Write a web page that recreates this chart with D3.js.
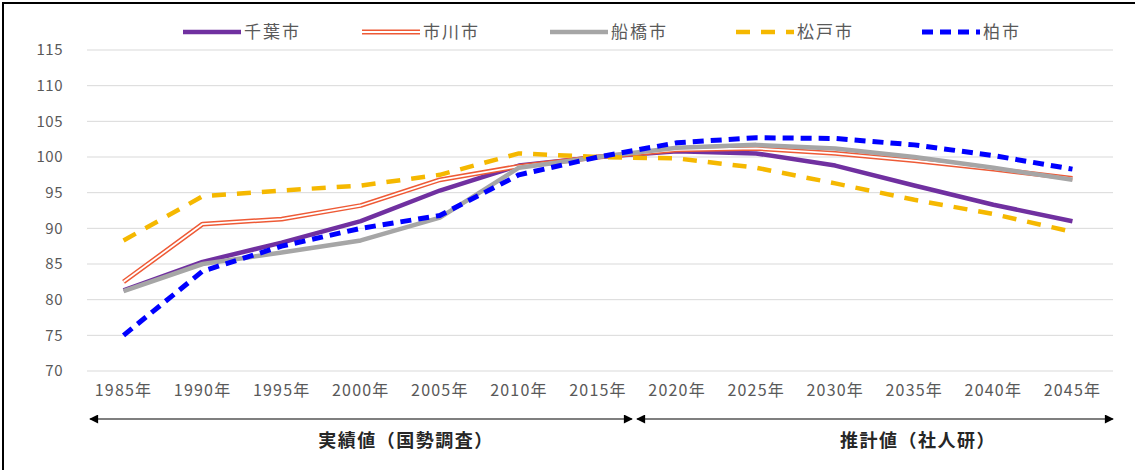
<!DOCTYPE html>
<html><head><meta charset="utf-8">
<script src="https://cdn.jsdelivr.net/npm/d3@7"></script>
<style>
html,body{margin:0;padding:0;background:#fff;}
svg{display:block;font-family:"Noto Sans CJK JP","Noto Sans",sans-serif;}
</style></head>
<body>
<script>
const categories = ["1985年","1990年","1995年","2000年","2005年","2010年","2015年","2020年","2025年","2030年","2035年","2040年","2045年"];
const chiba     = [81.3, 85.3, 88.0, 91.0, 95.3, 98.8, 100, 100.8, 100.5, 98.8, 96.0, 93.3, 91.0];
const ichikawa  = [82.5, 90.6, 91.3, 93.2, 96.8, 98.7, 100, 101.0, 101.2, 100.5, 99.5, 98.3, 97.0];
const funabashi = [81.2, 85.0, 86.6, 88.3, 91.5, 98.5, 100, 101.3, 101.7, 101.2, 100.0, 98.5, 96.8];
const matsudo   = [88.3, 94.5, 95.3, 96.0, 97.5, 100.5, 100, 99.8, 98.5, 96.3, 94.0, 92.0, 89.5];
const kashiwa   = [75.0, 84.0, 87.5, 90.0, 91.8, 97.5, 100, 102.0, 102.7, 102.6, 101.7, 100.2, 98.3];
const seriesNames = ["千葉市","市川市","船橋市","松戸市","柏市"];
const yTicks = [70,75,80,85,90,95,100,105,110,115];
const periodLabels = ["実績値（国勢調査）","推計値（社人研）"];

const W = 1135, H = 470;
const svg = d3.select("body").append("svg").attr("width", W).attr("height", H);

// frame (left/top visible)
svg.append("line").attr("x1",3).attr("x2",3).attr("y1",2).attr("y2",H).attr("stroke","#000").attr("stroke-width",2);
svg.append("line").attr("x1",2).attr("x2",W).attr("y1",3).attr("y2",3).attr("stroke","#000").attr("stroke-width",2);

const x = d3.scaleBand().domain(categories).range([84, 1112]);
const y = d3.scaleLinear().domain([70, 115]).range([371, 50]);
const cx = c => x(c) + x.bandwidth()/2;

// gridlines
svg.append("g").selectAll("line").data(yTicks).join("line")
  .attr("x1", 87).attr("x2", 1113)
  .attr("y1", d => y(d)).attr("y2", d => y(d))
  .attr("stroke", "#d9d9d9").attr("stroke-width", 1);

// y axis
const yAxis = svg.append("g").attr("transform","translate(63,0)")
  .call(d3.axisLeft(y).tickValues(yTicks).tickSize(0).tickPadding(0));
yAxis.select(".domain").remove();
yAxis.selectAll("text").attr("font-size",15).attr("fill","#595959").attr("letter-spacing","0.5")
  .attr("font-family","\"Noto Sans CJK JP\",sans-serif");

// x axis labels
const xAxis = svg.append("g").attr("transform","translate(0,386)")
  .call(d3.axisBottom(x).tickSize(0).tickPadding(0));
xAxis.select(".domain").remove();
xAxis.selectAll("text").attr("font-size",16).attr("fill","#595959").attr("dy","0.6em")
  .attr("letter-spacing","1.2")
  .attr("font-family","\"Noto Sans CJK JP\",sans-serif");

const line = d3.line().x((d,i) => cx(categories[i])).y(d => y(d));

const styles = [
  {data: chiba, color:"#7030a0", width:4.5},
  {data: ichikawa, color:"#ee5a36", width:4.8, inner:"#fff", innerW:1.8},
  {data: funabashi, color:"#a6a6a6", width:4.5},
  {data: matsudo, color:"#f5b800", width:4.5, dash:"14,11"},
  {data: kashiwa, color:"#0000ff", width:5, dash:"11,7"}
];

const gLines = svg.append("g");
styles.forEach(s => {
  gLines.append("path").datum(s.data).attr("d", line).attr("fill","none")
    .attr("stroke", s.color).attr("stroke-width", s.width)
    .attr("stroke-dasharray", s.dash || null).attr("stroke-linejoin","round");
  if (s.inner) {
    gLines.append("path").datum(s.data).attr("d", line).attr("fill","none")
      .attr("stroke", s.inner).attr("stroke-width", s.innerW).attr("stroke-linejoin","round");
  }
});

// legend
const legendPos = [183, 362, 550, 736, 922];
const lg = svg.append("g");
seriesNames.forEach((n,i) => {
  const s = styles[i], x0 = legendPos[i];
  lg.append("line").attr("x1",x0).attr("x2",x0+58).attr("y1",32).attr("y2",32)
    .attr("stroke",s.color).attr("stroke-width",s.width).attr("stroke-dasharray",s.dash||null);
  if (s.inner) lg.append("line").attr("x1",x0).attr("x2",x0+58).attr("y1",32).attr("y2",32)
    .attr("stroke",s.inner).attr("stroke-width",s.innerW);
  lg.append("text").attr("x",x0+61).attr("y",32).attr("dy","0.35em")
    .attr("font-size",17).attr("letter-spacing","2").attr("fill","#595959").text(n);
});

// arrows
const defs = svg.append("defs");
defs.append("marker").attr("id","ah").attr("viewBox","0 0 10 10").attr("refX",9).attr("refY",5)
  .attr("markerWidth",11).attr("markerHeight",9).attr("markerUnits","userSpaceOnUse").attr("orient","auto-start-reverse")
  .append("path").attr("d","M0,0L10,5L0,10z").attr("fill","#000");
const arrows = [[90, 632], [637, 1113]];
arrows.forEach(a => {
  svg.append("line").attr("x1",a[0]).attr("x2",a[1]).attr("y1",419).attr("y2",419)
    .attr("stroke","#000").attr("stroke-width",1.2)
    .attr("marker-start","url(#ah)").attr("marker-end","url(#ah)");
});
const labelX = [406, 918];
periodLabels.forEach((t,i) => {
  svg.append("text").attr("x",labelX[i]).attr("y",441).attr("dy","0.35em").attr("text-anchor","middle")
    .attr("font-size",18).attr("letter-spacing","1.5").attr("font-weight","bold").attr("fill","#262626").text(t);
});
</script>
</body></html>
